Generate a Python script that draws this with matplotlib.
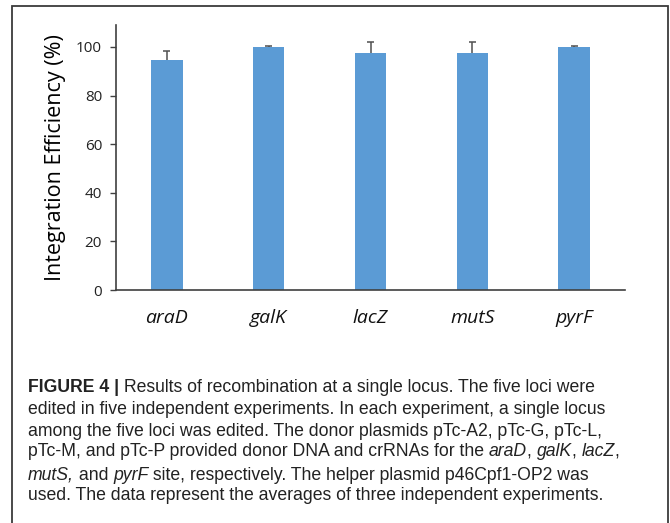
import numpy as np
import matplotlib
matplotlib.use("Agg")
import matplotlib.pyplot as plt
from matplotlib.patches import Rectangle

# data
genes = ["araD", "galK", "lacZ", "mutS", "pyrF"]
efficiency = [94.5, 100.0, 97.4, 97.4, 100.0]
err_up = [4.0, 0.2, 4.8, 4.8, 0.2]
yticks = [0, 20, 40, 60, 80, 100]

bar_color = "#5b9bd5"
axis_color = "#404040"

W, H = 670, 523
fig = plt.figure(figsize=(W / 100, H / 100), dpi=100)

# axes placed in pixel coordinates of the reference
left, right, top, bottom = 116, 625, 25, 290
ax = fig.add_axes([left / W, 1 - bottom / H, (right - left) / W, (bottom - top) / H])

x = np.arange(len(genes))
eff = np.array(efficiency)
tops = eff + np.array(err_up)
ax.bar(x, eff, width=0.31, color=bar_color, zorder=2)
# upper-only error bars (Excel style: stem + top cap)
ax.vlines(x, eff, tops, color="#505050", linewidth=1.1, zorder=3)
ax.hlines(tops, x - 0.035, x + 0.035, color="#505050", linewidth=1.1, zorder=3)

ax.set_xlim(-0.5, len(genes) - 0.5)
ax.set_ylim(0, 109)
ax.set_yticks(yticks)
ax.set_yticklabels([str(v) for v in yticks], fontsize=11, family="Open Sans", color="#222222")
ax.set_xticks(x)
ax.set_xticklabels(genes, fontsize=14, family="Open Sans", style="italic", color="#111111")
ax.tick_params(axis="x", length=0, pad=14)
ax.tick_params(axis="y", direction="out", length=4, width=1, color=axis_color, pad=6)
for s in ["top", "right"]:
    ax.spines[s].set_visible(False)
for s in ["left", "bottom"]:
    ax.spines[s].set_color(axis_color)
    ax.spines[s].set_linewidth(1.2)
ax.set_ylabel("Integration Efficiency (%)", fontsize=15.5, family="Open Sans", labelpad=7)

# outer frame
fig.patches.append(Rectangle((12 / W, -0.05), (668 - 12) / W, 1 - 6 / H + 0.05,
                             transform=fig.transFigure, fill=False,
                             edgecolor="#3a3a3a", linewidth=1.3))

# caption, drawn piece by piece so bold / italic runs sit inline
caption = [
    [("FIGURE 4 |", "bold"), (" Results of recombination at a single locus. The five loci were", "normal")],
    [("edited in five independent experiments. In each experiment, a single locus", "normal")],
    [("among the five loci was edited. The donor plasmids pTc-A2, pTc-G, pTc-L,", "normal")],
    [("pTc-M, and pTc-P provided donor DNA and crRNAs for the ", "normal"), ("araD", "italic"),
     (", ", "normal"), ("galK", "italic"), (", ", "normal"), ("lacZ", "italic"), (",", "normal")],
    [("mutS,", "italic"), (" and ", "normal"), ("pyrF", "italic"),
     (" site, respectively. The helper plasmid p46Cpf1-OP2 was", "normal")],
    [("used. The data represent the averages of three independent experiments.", "normal")],
]
line_y = [388, 410, 431, 452, 475, 496]
cap_font = ["Liberation Sans", "DejaVu Sans"]

fig.canvas.draw()
renderer = fig.canvas.get_renderer()
for parts, yp in zip(caption, line_y):
    xp = 28
    for txt, kind in parts:
        t = fig.text(xp / W, 1 - yp / H, txt, fontsize=12.7, family=cap_font,
                     color="#222222", va="center", ha="left",
                     fontweight="bold" if kind == "bold" else "normal",
                     fontstyle="italic" if kind == "italic" else "normal")
        bb = t.get_window_extent(renderer=renderer)
        xp += bb.width

fig.savefig("out.png", dpi=100)
